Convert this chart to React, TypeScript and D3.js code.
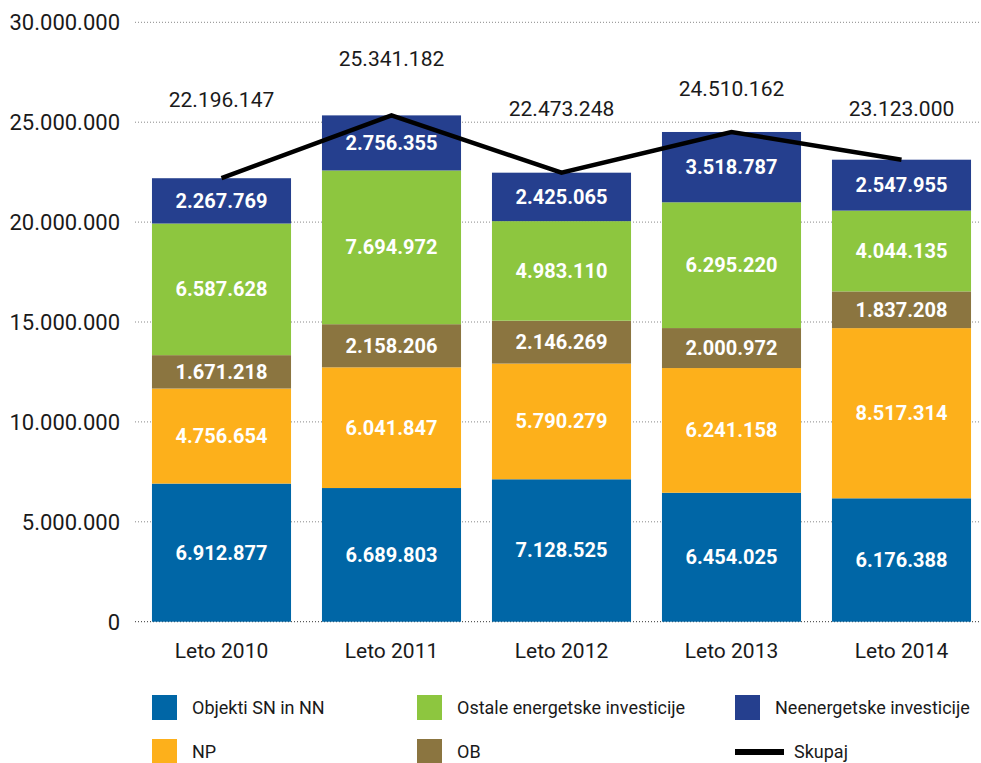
import React from "react";
import * as d3 from "d3";

const categories = ["Leto 2010", "Leto 2011", "Leto 2012", "Leto 2013", "Leto 2014"];
const objektiSN = [6912877, 6689803, 7128525, 6454025, 6176388];
const np = [4756654, 6041847, 5790279, 6241158, 8517314];
const ob = [1671218, 2158206, 2146269, 2000972, 1837208];
const ostale = [6587628, 7694972, 4983110, 6295220, 4044135];
const neenergetske = [2267769, 2756355, 2425065, 3518787, 2547955];
const skupaj = [22196147, 25341182, 22473248, 24510162, 23123000];
const yTicks = [0, 5000000, 10000000, 15000000, 20000000, 25000000, 30000000];

// layout-only: how far above the stack top each total label sits (px)
const totalLabelLift = [71, 49, 57, 36, 44];

const series = [
  { name: "Objekti SN in NN", values: objektiSN, color: "#0066a6" },
  { name: "NP", values: np, color: "#fdb01b" },
  { name: "OB", values: ob, color: "#8b7540" },
  { name: "Ostale energetske investicije", values: ostale, color: "#8dc63f" },
  { name: "Neenergetske investicije", values: neenergetske, color: "#253f8e" },
];

const legendItems = [
  { name: "Objekti SN in NN", color: "#0066a6", kind: "rect", col: 0, row: 0 },
  { name: "Ostale energetske investicije", color: "#8dc63f", kind: "rect", col: 1, row: 0 },
  { name: "Neenergetske investicije", color: "#253f8e", kind: "rect", col: 2, row: 0 },
  { name: "NP", color: "#fdb01b", kind: "rect", col: 0, row: 1 },
  { name: "OB", color: "#8b7540", kind: "rect", col: 1, row: 1 },
  { name: "Skupaj", color: "#000000", kind: "line", col: 2, row: 1 },
];

const locale = d3.formatLocale({ decimal: ",", thousands: ".", grouping: [3], currency: ["", ""] });
const fmt = locale.format(",d");

const W = 981;
const H = 763;
const FONT = "Roboto, 'Open Sans', sans-serif";

export default function App() {
  const x = d3
    .scaleBand<string>()
    .domain(categories)
    .range([136.5, 986.5])
    .paddingInner(0.182)
    .paddingOuter(0.091);
  const y = d3.scaleLinear().domain([0, 30000000]).range([621.7, 22.3]);

  const stackData = categories.map((c, i) => {
    const row: any = { cat: c };
    series.forEach((s) => (row[s.name] = s.values[i]));
    return row;
  });
  const stacked = d3.stack<any>().keys(series.map((s) => s.name))(stackData);

  const line = d3
    .line<number>()
    .x((_, i) => (x(categories[i]) as number) + x.bandwidth() / 2)
    .y((d) => y(d));

  const legendColX = [152, 417, 735];
  const legendRowY = [695, 739];

  return (
    <svg width={W} height={H} style={{ position: "absolute", left: 0, top: 0, background: "#fff" }} fontFamily={FONT}>
      {/* grid */}
      {yTicks.map((t) => (
        <g key={t}>
          <line
            x1={135}
            x2={981}
            y1={y(t)}
            y2={y(t)}
            stroke={t === 0 ? "#333" : "#888"}
            strokeWidth={1}
            strokeDasharray="1,2"
          />
          <text x={120} y={y(t) + 8} textAnchor="end" fontSize={22} fill="#1a1a1a">
            {fmt(t)}
          </text>
        </g>
      ))}

      {/* bars */}
      {stacked.map((layer, li) => (
        <g key={layer.key}>
          {layer.map((d, i) => {
            const x0 = x(categories[i]) as number;
            const yTop = y(d[1]);
            const yBot = y(d[0]);
            return (
              <g key={i}>
                <rect x={x0} y={yTop} width={x.bandwidth()} height={yBot - yTop} fill={series[li].color} />
                <text
                  x={x0 + x.bandwidth() / 2}
                  y={(yTop + yBot) / 2 + 7}
                  textAnchor="middle"
                  fontSize={20}
                  fontWeight="bold"
                  fill="#fff"
                >
                  {fmt(series[li].values[i])}
                </text>
              </g>
            );
          })}
        </g>
      ))}

      {/* total line */}
      <path d={line(skupaj) as string} fill="none" stroke="#000" strokeWidth={4.5} />

      {/* total labels */}
      {skupaj.map((v, i) => (
        <text
          key={i}
          x={(x(categories[i]) as number) + x.bandwidth() / 2}
          y={y(v) - totalLabelLift[i]}
          textAnchor="middle"
          fontSize={21}
          fill="#1a1a1a"
        >
          {fmt(v)}
        </text>
      ))}

      {/* x labels */}
      {categories.map((c) => (
        <text
          key={c}
          x={(x(c) as number) + x.bandwidth() / 2}
          y={658}
          textAnchor="middle"
          fontSize={21}
          fill="#1a1a1a"
        >
          {c}
        </text>
      ))}

      {/* legend */}
      {legendItems.map((it) => {
        const lx = legendColX[it.col];
        const ly = legendRowY[it.row];
        return (
          <g key={it.name}>
            {it.kind === "rect" ? (
              <rect x={lx} y={ly} width={25} height={25} fill={it.color} />
            ) : (
              <rect x={lx} y={ly + 10} width={49} height={6} fill={it.color} />
            )}
            <text
              x={it.kind === "rect" ? lx + 40 : lx + 59}
              y={ly + 19}
              fontSize={18}
              fill="#1a1a1a"
            >
              {it.name}
            </text>
          </g>
        );
      })}
    </svg>
  );
}
